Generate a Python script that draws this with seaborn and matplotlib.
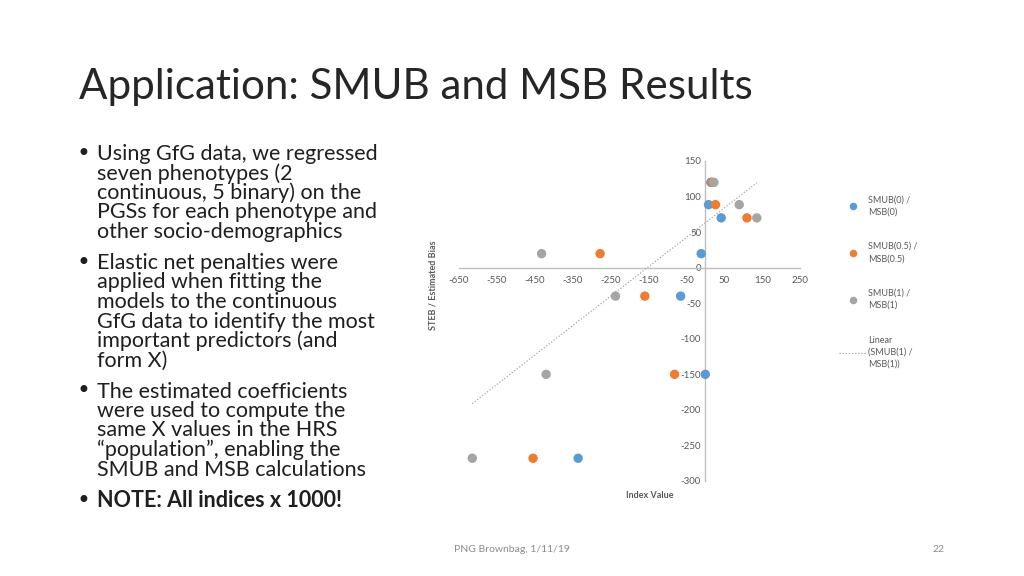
import numpy as np
import pandas as pd
import matplotlib
matplotlib.use("Agg")
import matplotlib.pyplot as plt
import seaborn as sns

# ---- data (values x 1000) ----
bias = [120, 88.6, 70, 19.7, -40, -150, -268]
smub0 = [14.8, 8.6, 42, -10.8, -65, 0, -335.6]
smub05 = [18, 27, 110, -277.6, -159.5, -81, -454.5]
smub1 = [22.7, 89.6, 136, -432, -237, -420, -615]
series_names = ["SMUB(0) /\nMSB(0)", "SMUB(0.5) /\nMSB(0.5)", "SMUB(1) /\nMSB(1)"]
trend_label = "Linear\n(SMUB(1) /\nMSB(1))"
x_ticks = [-650, -550, -450, -350, -250, -150, -50, 50, 150, 250]
y_ticks = [-300, -250, -200, -150, -100, -50, 0, 50, 100, 150]
colors = ["#5B9BD5", "#ED7D31", "#A5A5A5"]

bullets = [
    (["Using GfG data, we regressed", "seven phenotypes (2", "continuous, 5 binary) on the",
      "PGSs for each phenotype and", "other socio-demographics"], "normal"),
    (["Elastic net penalties were", "applied when fitting the", "models to the continuous",
      "GfG data to identify the most", "important predictors (and", "form X)"], "normal"),
    (["The estimated coefficients", "were used to compute the", "same X values in the HRS",
      "\u201cpopulation\u201d, enabling the", "SMUB and MSB calculations"], "normal"),
    (["NOTE: All indices x 1000!"], "bold"),
]

df = pd.DataFrame({
    "x": smub0 + smub05 + smub1,
    "y": bias * 3,
    "series": [series_names[0]] * 7 + [series_names[1]] * 7 + [series_names[2]] * 7,
})

sns.set_theme(style="white")
plt.rcParams["font.family"] = ["Lato", "DejaVu Sans"]

fig = plt.figure(figsize=(10.24, 5.76), dpi=100)
fig.patch.set_facecolor("white")
W, H = 1024, 576

ax = fig.add_axes([459 / W, 1 - 481 / H, (800 - 459) / W, (481 - 161) / H])
sns.scatterplot(data=df, x="x", y="y", hue="series", palette=colors,
                s=46, edgecolor="none", ax=ax, legend=True, zorder=3)

# linear trend of SMUB(1)
coef = np.polyfit(smub1, bias, 1)
xs = np.array([min(smub1), max(smub1)])
ax.plot(xs, np.polyval(coef, xs), linestyle=(0, (1, 1.5)), color="#A5A5A5",
        linewidth=0.9, label=trend_label, zorder=2)

ax.set_xlim(-650, 250)
ax.set_ylim(-300, 150)
ax.set_xticks(x_ticks)
ax.set_yticks(y_ticks)
ax.set_xticklabels([str(v) for v in x_ticks])
ax.set_yticklabels([str(v) for v in y_ticks])
for s in ["top", "right"]:
    ax.spines[s].set_visible(False)
ax.spines["left"].set_position(("data", 0))
ax.spines["bottom"].set_position(("data", 0))
for s in ["left", "bottom"]:
    ax.spines[s].set_color("#BFBFBF")
    ax.spines[s].set_linewidth(1.0)
ax.tick_params(axis="both", length=0, labelsize=7, labelcolor="#595959")
ax.tick_params(axis="x", pad=6)
ax.tick_params(axis="y", pad=3)
ax.set_xlabel("")
ax.set_ylabel("")
ax.set_facecolor("none")

handles, labels = ax.get_legend_handles_labels()
if ax.legend_:
    ax.legend_.remove()
leg = fig.legend(handles, labels, loc="upper left", bbox_to_anchor=(831 / W, 1 - 187 / H),
                 frameon=False, fontsize=6.5, labelcolor="#595959", handlelength=3.0,
                 labelspacing=2.85, handletextpad=0.2, markerscale=0.8)
for t in leg.get_texts():
    t.set_linespacing(1.45)

fig.text(433 / W, 1 - 285 / H, "STEB / Estimated Bias", rotation=90, ha="center", va="center",
         fontsize=6.5, fontweight="bold", color="#595959")
fig.text(650 / W, 1 - 495 / H, "Index Value", ha="center", va="center",
         fontsize=6.5, fontweight="bold", color="#595959")

# title
fig.text(79 / W, 1 - 87 / H, "Application: SMUB and MSB Results", ha="left", va="center",
         fontsize=30.3, fontweight="normal", color="#262626")

# bullets
y = 154
lh = 19.5
for lines, weight in bullets:
    fig.text(77 / W, 1 - y / H, "\u2022", ha="left", va="center", fontsize=17,
             color="#1F1F1F", family=["DejaVu Sans"])
    for ln in lines:
        fig.text(97 / W, 1 - y / H, ln, ha="left", va="center", fontsize=15.5,
                 fontweight=weight, color="#1F1F1F")
        y += lh
    y += 11.5

fig.text(512 / W, 1 - 549 / H, "PNG Brownbag, 1/11/19", ha="center", va="center",
         fontsize=7.5, color="#8C8C8C")
fig.text(938 / W, 1 - 549 / H, "22", ha="center", va="center", fontsize=7.5, color="#8C8C8C")

fig.savefig("out.png", dpi=100, facecolor="white")
